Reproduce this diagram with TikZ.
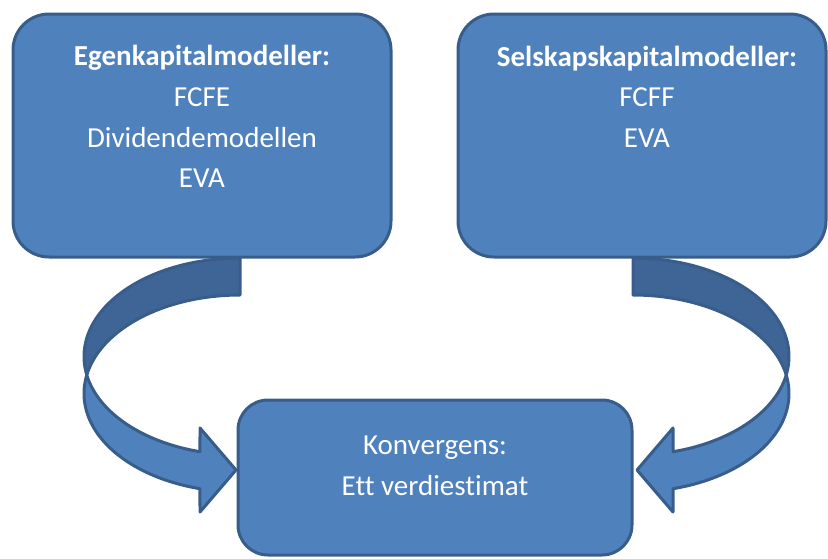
\documentclass[tikz,border=0pt]{standalone}
\usepackage{fontspec}
\setmainfont[Ligatures=NoCommon]{Carlito}
\definecolor{boxfill}{HTML}{4F81BD}
\definecolor{boxline}{HTML}{385D8A}
\definecolor{bandback}{HTML}{3E6596}
\tikzset{
  box/.style={draw=boxline, fill=boxfill, line width=3pt, rounded corners=36pt, inner sep=0pt},
  lbl/.style={text=white, anchor=base, inner sep=0pt, font=\fontsize{29}{35}\selectfont},
  band/.style={draw=boxline, line width=3pt, line join=round},
}
% Curved arrow built from two equal ellipses offset vertically;
% local origin is the ellipse centre line, tip points towards +x after mirroring.
\newcommand\curvedband{%
  \filldraw[band, fill=bandback] (0,258)
    -- plot[domain=270:169.16, samples=50] ({156*cos(\x)}, {356.5+98.5*sin(\x)})
    -- plot[domain=190.84:270, samples=50] ({156*cos(\x)}, {393.5+98.5*sin(\x)})
    -- cycle;
  \filldraw[band, fill=boxfill] ({156*cos(190.84)}, {393.5+98.5*sin(190.84)})
    -- plot[domain=190.84:104.86, samples=60] ({156*cos(\x)}, {393.5+98.5*sin(\x)})
    -- (-40,512) -- (-4,470) -- (-40,428)
    -- plot[domain=104.86:169.16, samples=60] ({156*cos(\x)}, {356.5+98.5*sin(\x)})
    -- cycle;
}
\begin{document}
\begin{tikzpicture}[x=1pt, y=-1pt]
  \useasboundingbox (0,0) rectangle (828,558);

  % curved arrows feeding the lower box
  \begin{scope}[xshift=240pt]
    \curvedband
  \end{scope}
  \begin{scope}[xshift=633pt, xscale=-1]
    \curvedband
  \end{scope}

  % boxes
  \node[box, minimum width=378pt, minimum height=243pt] (egen) at (202,135.5) {};
  \node[box, minimum width=368pt, minimum height=243pt] (selskap) at (642,135.5) {};
  \node[box, rounded corners=30pt, minimum width=394pt, minimum height=155pt] (konv) at (435,477.5) {};

  % texts
  \node[lbl, font=\fontsize{29}{35}\selectfont\bfseries] (egen-t) at (202,65) {Egenkapitalmodeller:};
  \node[lbl] (egen-1) at (202,106) {FCFE};
  \node[lbl] (egen-2) at (202,147) {Dividendemodellen};
  \node[lbl] (egen-3) at (202,187) {EVA};

  \node[lbl, font=\fontsize{29}{35}\selectfont\bfseries] (selskap-t) at (647,66) {Selskapskapitalmodeller:};
  \node[lbl] (selskap-1) at (647,106) {FCFF};
  \node[lbl] (selskap-2) at (647,147) {EVA};

  \node[lbl] (konv-1) at (435,454) {Konvergens:};
  \node[lbl] (konv-2) at (435,495) {Ett verdiestimat};
\end{tikzpicture}
\end{document}
